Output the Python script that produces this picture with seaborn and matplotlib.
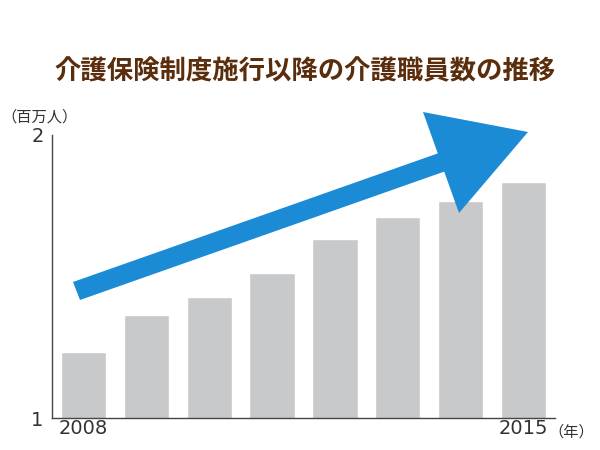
import matplotlib
matplotlib.use("Agg")
import matplotlib.pyplot as plt
from matplotlib.patches import Polygon
import seaborn as sns
import pandas as pd

# data (millions of care workers)
years = ["2008", "2009", "2010", "2011", "2012", "2013", "2014", "2015"]
workers = [1.233, 1.364, 1.428, 1.512, 1.633, 1.710, 1.767, 1.834]
tick_labels = ["2008", "", "", "", "", "", "", "2015"]

title = "介護保険制度施行以降の介護職員数の推移"

sns.set_theme(style="white")
plt.rcParams['font.family'] = ['Noto Sans CJK JP', 'DejaVu Sans']

df = pd.DataFrame({"year": years, "workers": workers})

fig = plt.figure(figsize=(6, 4.5), dpi=100)
fig.patch.set_facecolor("white")
ax = fig.add_axes([52 / 600, 32 / 450, 503 / 600, 283 / 450])

sns.barplot(data=df, x="year", y="workers", color="#c8c9ca", saturation=1,
            width=0.72, ax=ax)

ax.set_ylim(1, 2)
ax.set_xlim(-0.5, 7.5)
ax.set_xlabel("")
ax.set_ylabel("")
ax.set_yticks([1, 2])
ax.set_yticklabels(["1", "2"], fontsize=14, color="#333333", family="DejaVu Sans")
ax.set_xticks(range(len(years)))
ax.set_xticklabels(tick_labels, fontsize=14, color="#333333", family="DejaVu Sans")
ax.tick_params(axis="both", length=0, pad=1)
ax.tick_params(axis="y", pad=6)

sns.despine(ax=ax)
for side in ["left", "bottom"]:
    ax.spines[side].set_color("#444444")
    ax.spines[side].set_linewidth(1.0)

# trend arrow (decoration, in figure pixel space)
pts = [(73, 282), (437.8, 153.4), (423, 112), (528, 132),
       (459, 213), (444.2, 171.6), (80, 300)]
arrow = Polygon([(x / 600, (450 - y) / 450) for x, y in pts], closed=True,
                transform=fig.transFigure, facecolor="#1b8bd6",
                edgecolor="none", zorder=5)
fig.patches.append(arrow)

fig.text(305 / 600, (450 - 72) / 450, title, ha="center", va="center",
         fontsize=19, fontweight="bold", color="#5a2d0c")
fig.text(40 / 600, (450 - 117) / 450, "（百万人）", ha="center", va="center",
         fontsize=11, color="#333333")
fig.text(548 / 600, (450 - 432) / 450, "（年）", ha="left", va="center",
         fontsize=11, color="#333333")

fig.savefig("out.png", dpi=100)
plt.close()
